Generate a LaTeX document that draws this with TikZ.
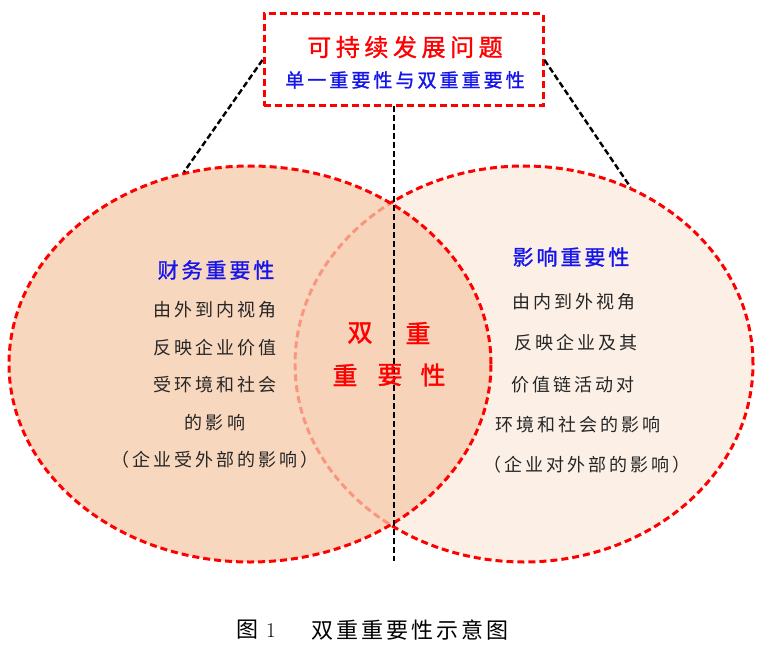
\documentclass[tikz,border=0pt]{standalone}
\usepackage{fontspec}
\usetikzlibrary{shapes.geometric}
\newfontfamily\cjkbody[LetterSpace=17]{Noto Sans CJK SC}
\newfontfamily\cjkhead[FakeBold=1.2,LetterSpace=14]{Noto Sans CJK SC}
\newfontfamily\cjktitle[FakeBold=1.2,LetterSpace=19]{Noto Sans CJK SC}
\newfontfamily\cjksub[FakeBold=1.2,LetterSpace=16]{Noto Sans CJK SC}
\newfontfamily\cjkcenter[FakeBold=1.5]{Noto Sans CJK SC}
\newfontfamily\cjkcap[LetterSpace=14]{Noto Sans CJK SC}
\definecolor{peach}{RGB}{246,202,170}
\definecolor{cream}{RGB}{252,240,230}
\definecolor{hblue}{RGB}{20,20,235}
\begin{document}
\begin{tikzpicture}[x=1pt,y=-1pt,
  redborder/.style={draw=red, line width=3pt, dash pattern=on 7pt off 4pt},
  blackdash/.style={draw=black, line width=2.4pt, dash pattern=on 6pt off 3pt},
  circ/.style={ellipse, redborder, inner sep=0},
  body/.style={font=\cjkbody\fontsize{18}{22}\selectfont, text=black!85, inner sep=0},
  head/.style={font=\cjkhead\fontsize{21}{24}\selectfont, text=hblue, inner sep=0},
  mid/.style={font=\cjkcenter\fontsize{25}{29}\selectfont, text=red, inner sep=0},
  captext/.style={font=\cjkcap\fontsize{22}{26}\selectfont, text=black, inner sep=0}]
\useasboundingbox (0,0) rectangle (765,663);
% ellipses
\node[circ, fill=cream, minimum width=458pt, minimum height=396pt] (R) at (524,364) {};
\node[circ, fill=peach, fill opacity=0.75, draw opacity=1, minimum width=482pt, minimum height=396pt] (L) at (250,364) {};
% top box
\node[redborder, fill=white, minimum width=279pt, minimum height=92pt, inner sep=0] (box) at (403.5,60) {};
\node[font=\cjktitle\fontsize{24}{28}\selectfont, text=red, inner sep=0] (title) at (405,47) {可持续发展问题};
\node[font=\cjksub\fontsize{19}{22}\selectfont, text=hblue, inner sep=0] (sub) at (405,80) {单一重要性与双重重要性};
% connectors
\coordinate (vt) at (394,106);
\coordinate (vb) at (394,561);
\draw[blackdash] (box.west) -- (L.109.7);
\draw[blackdash] (box.east) -- (R.59.6);
\draw[blackdash] (vt) -- (vb);
% left texts
\node[head] (fh) at (216,270) {财务重要性};
\node[body] (f1) at (215,310) {由外到内视角};
\node[body] (f2) at (215,348) {反映企业价值};
\node[body] (f3) at (215,385) {受环境和社会};
\node[body] (f4) at (215,423) {的影响};
\node[body] (f5) at (215,460) {（企业受外部的影响）};
% right texts
\node[head] (ih) at (571,257) {影响重要性};
\node[body] (i1) at (574,302) {由内到外视角};
\node[body] (i2) at (576,343) {反映企业及其};
\node[body] (i3) at (573,385) {价值链活动对};
\node[body] (i4) at (578,425) {环境和社会的影响};
\node[body] (i5) at (587,465) {（企业对外部的影响）};
% center
\node[mid] (c1) at (360,333) {双};
\node[mid] (c2) at (418,333) {重};
\node[mid] (c3) at (345,375) {重};
\node[mid] (c4) at (390,375) {要};
\node[mid] (c5) at (433,375) {性};
% caption
\node[captext] (cap1) at (247,630) {图};
\node[font=\fontsize{21}{24}\selectfont, inner sep=0] (cap2) at (271,631) {1};
\node[captext] (cap3) at (410,630) {双重重要性示意图};
\end{tikzpicture}
\end{document}
